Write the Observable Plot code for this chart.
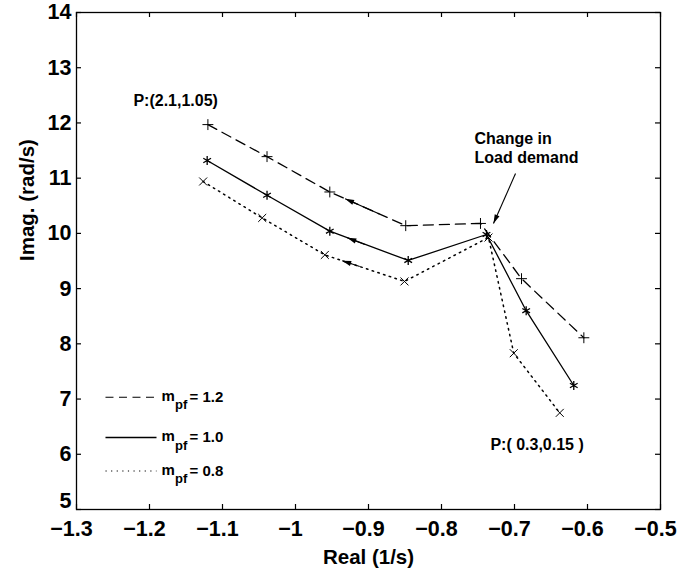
<!DOCTYPE html>
<html>
<head>
<meta charset="utf-8">
<script src="https://cdn.jsdelivr.net/npm/d3@7"></script>
<script src="https://cdn.jsdelivr.net/npm/@observablehq/plot@0.6"></script>
<style>
  html, body { margin: 0; padding: 0; background: #fff; }
</style>
</head>
<body>
<div id="chart"></div>
<script>
// ---- data ----
const dashedX = [-1.120, -1.039, -0.953, -0.849, -0.7466, -0.6904, -0.605];
const dashedY = [11.97, 11.39, 10.75, 10.14, 10.18, 9.18, 8.11];
const solidX  = [-1.121, -1.039, -0.953, -0.8456, -0.7384, -0.684, -0.6188];
const solidY  = [11.32, 10.69, 10.04, 9.51, 9.98, 8.60, 7.245];
const dottedX = [-1.1265, -1.0456, -0.9598, -0.8507, -0.7356, -0.701, -0.638];
const dottedY = [10.94, 10.28, 9.61, 9.13, 9.925, 7.83, 6.75];

const arrowTailX = [-0.885, -0.905, -0.912, -0.6986];
const arrowTailY = [10.35, 9.80, 9.40, 11.084];
const arrowTipX  = [-0.932, -0.929, -0.936, -0.7288];
const arrowTipY  = [10.627, 9.92, 9.505, 10.179];

const annoText = ["P:(2.1,1.05)", "Change in\nLoad demand", "P:( 0.3,0.15 )"];
const annoX = [-1.222, -0.7548, -0.733];
const annoY = [12.406, 11.863, 6.164];

const legendLabels = ["= 1.2", "= 1.0", "= 0.8"];
const legendY = [7.033, 6.304, 5.697];
const legendX1 = -1.2603, legendX2 = -1.1904, legendTextX = -1.1836;

const xTicks = [-1.3, -1.2, -1.1, -1.0, -0.9, -0.8, -0.7, -0.6, -0.5];
const xTickLabels = ["\u22121.3", "\u22121.2", "\u22121.1", "\u22121", "\u22120.9", "\u22120.8", "\u22120.7", "\u22120.6", "\u22120.5"];
const yTicks = [5, 6, 7, 8, 9, 10, 11, 12, 13, 14];
const yTickLabels = ["5", "6", "7", "8", "9", "10", "11", "12", "13", "14"];

// ---- layout ----
const W = 692, H = 574, mL = 76, mR = 32, mT = 12, mB = 65;
const xDomain = [-1.3, -0.5], yDomain = [5, 14];
const pxX = (W - mL - mR) / (xDomain[1] - xDomain[0]);
const pxY = (H - mT - mB) / (yDomain[1] - yDomain[0]);
const tickLen = 5;
const tickFont = 21.5;

const toRows = (xs, ys) => xs.map((x, i) => ({x, y: ys[i]}));
const dashed = toRows(dashedX, dashedY);
const solid = toRows(solidX, solidY);
const dotted = toRows(dottedX, dottedY);
const arrows = arrowTipX.map((x, i) => {
  const dx = (x - arrowTailX[i]) * pxX;
  const dy = -(arrowTipY[i] - arrowTailY[i]) * pxY;
  return {x1: arrowTailX[i], y1: arrowTailY[i], x2: x, y2: arrowTipY[i],
          angle: Math.atan2(dx, -dy) * 180 / Math.PI};
});
const annos = annoText.map((t, i) => ({t, x: annoX[i], y: annoY[i], i}));
const legend = legendLabels.map((l, i) => ({l, y: legendY[i], i}));
const xLab = new Map(xTicks.map((d, i) => [d, xTickLabels[i]]));
const yLab = new Map(yTicks.map((d, i) => [d, yTickLabels[i]]));

// arrowhead symbol: tip at origin, body extending downward
const arrowHead = {
  draw(context, size) {
    context.moveTo(0, 0);
    context.lineTo(2.6, 9);
    context.lineTo(-2.6, 9);
    context.closePath();
  }
};

const font = "'Liberation Sans', Arial, Helvetica, sans-serif";

const chart = Plot.plot({
  width: W, height: H,
  marginLeft: mL, marginRight: mR, marginTop: mT, marginBottom: mB,
  style: {background: "white", color: "black", fontFamily: font, overflow: "visible"},
  x: {domain: xDomain},
  y: {domain: yDomain},
  marks: [
    Plot.frame({stroke: "black", strokeWidth: 1.3}),
    // inward ticks on all four sides
    Plot.ruleX(xTicks, {x: d => d, y1: yDomain[0], y2: yDomain[0] + tickLen / pxY, stroke: "black", strokeWidth: 1.2}),
    Plot.ruleX(xTicks, {x: d => d, y1: yDomain[1], y2: yDomain[1] - tickLen / pxY, stroke: "black", strokeWidth: 1.2}),
    Plot.ruleY(yTicks, {y: d => d, x1: xDomain[0], x2: xDomain[0] + tickLen / pxX, stroke: "black", strokeWidth: 1.2}),
    Plot.ruleY(yTicks, {y: d => d, x1: xDomain[1], x2: xDomain[1] - tickLen / pxX, stroke: "black", strokeWidth: 1.2}),
    Plot.axisX(xTicks, {tickSize: 0, tickPadding: 11, tickFormat: d => xLab.get(d), fontSize: tickFont, fontWeight: "bold", dx: -5, label: null}),
    Plot.axisY(yTicks.filter(d => d !== yDomain[0]), {tickSize: 0, tickPadding: 5, tickFormat: d => yLab.get(d), fontSize: tickFont, fontWeight: "bold", label: null}),
    Plot.axisY(yTicks.filter(d => d === yDomain[0]), {tickSize: 0, tickPadding: 5, tickFormat: d => yLab.get(d), fontSize: tickFont, fontWeight: "bold", dy: -8, label: null}),
    Plot.text(["Real (1/s)"], {frameAnchor: "bottom", dy: 48, lineAnchor: "middle", fontSize: 20.5, fontWeight: "bold"}),
    Plot.text(["Imag. (rad/s)"], {frameAnchor: "left", dx: -49, rotate: -90, lineAnchor: "middle", fontSize: 20.5, fontWeight: "bold"}),

    // series lines
    Plot.line(dashed, {x: "x", y: "y", stroke: "black", strokeWidth: 1.3, strokeDasharray: "10,6"}),
    Plot.line(solid, {x: "x", y: "y", stroke: "black", strokeWidth: 1.3}),
    Plot.line(dotted, {x: "x", y: "y", stroke: "black", strokeWidth: 1.5, strokeDasharray: "1.5,4.5"}),
    // markers
    Plot.dot(dashed, {x: "x", y: "y", symbol: "plus", r: 3.6, stroke: "black", strokeWidth: 1}),
    Plot.dot(solid, {x: "x", y: "y", symbol: "asterisk", r: 4.2, stroke: "black", strokeWidth: 1.3}),
    Plot.dot(dotted, {x: "x", y: "y", symbol: "times", r: 3.7, stroke: "black", strokeWidth: 1}),

    // direction arrows and annotation arrow
    Plot.link(arrows, {x1: "x1", y1: "y1", x2: "x2", y2: "y2", stroke: "black", strokeWidth: 1.1}),
    Plot.dot(arrows, {x: "x2", y: "y2", symbol: arrowHead, r: 3, fill: "black", stroke: "none", rotate: "angle"}),

    // annotations
    Plot.text(annos.filter(d => d.i !== 1), {x: "x", y: "y", text: "t", textAnchor: "start",
      lineAnchor: "middle", fontSize: 16, fontWeight: "bold"}),
    Plot.text(annos.filter(d => d.i === 1), {x: "x", y: "y", text: "t", textAnchor: "start",
      lineAnchor: "top", fontSize: 16, fontWeight: "bold", lineHeight: 1.19}),

    // legend
    Plot.link(legend.filter(d => d.i === 0), {x1: legendX1, x2: legendX2, y1: "y", y2: "y", stroke: "black", strokeWidth: 1.2, strokeDasharray: "8,5.5"}),
    Plot.link(legend.filter(d => d.i === 1), {x1: legendX1, x2: legendX2, y1: "y", y2: "y", stroke: "black", strokeWidth: 1.4}),
    Plot.link(legend.filter(d => d.i === 2), {x1: legendX1, x2: legendX2, y1: "y", y2: "y", stroke: "black", strokeWidth: 1.2, strokeDasharray: "1.2,4.4"}),
    Plot.text(legend, {x: legendTextX, y: "y", text: () => "m", textAnchor: "start", lineAnchor: "middle", dy: -1, fontSize: 15, fontWeight: "bold"}),
    Plot.text(legend, {x: legendTextX, y: "y", text: () => "pf", textAnchor: "start", lineAnchor: "middle", dx: 13.5, dy: 8, fontSize: 13, fontWeight: "bold"}),
    Plot.text(legend, {x: legendTextX, y: "y", text: "l", textAnchor: "start", lineAnchor: "middle", dx: 28, dy: 0, fontSize: 15, fontWeight: "bold"})
  ]
});

document.getElementById("chart").appendChild(chart);
</script>
</body>
</html>
